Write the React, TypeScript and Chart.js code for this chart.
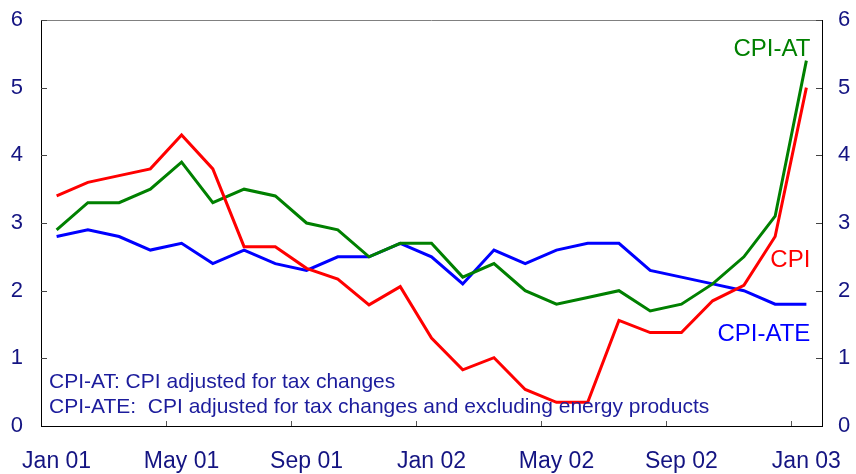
import React, { useEffect, useRef } from "react";
import { Chart, registerables } from "chart.js";

Chart.register(...registerables);

const months = [
  "Jan 01", "Feb 01", "Mar 01", "Apr 01", "May 01", "Jun 01", "Jul 01", "Aug 01", "Sep 01", "Oct 01", "Nov 01", "Dec 01",
  "Jan 02", "Feb 02", "Mar 02", "Apr 02", "May 02", "Jun 02", "Jul 02", "Aug 02", "Sep 02", "Oct 02", "Nov 02", "Dec 02",
  "Jan 03",
];
const cpi = [3.4, 3.6, 3.7, 3.8, 4.3, 3.8, 2.65, 2.65, 2.33, 2.17, 1.79, 2.06, 1.3, 0.83, 1.01, 0.54, 0.35, 0.35, 1.56, 1.38, 1.38, 1.85, 2.08, 2.8, 5.0];
const cpiAT = [2.9, 3.3, 3.3, 3.5, 3.9, 3.3, 3.5, 3.4, 3.0, 2.9, 2.5, 2.7, 2.7, 2.2, 2.4, 2.0, 1.8, 1.9, 2.0, 1.7, 1.8, 2.1, 2.5, 3.1, 5.4];
const cpiATE = [2.8, 2.9, 2.8, 2.6, 2.7, 2.4, 2.6, 2.4, 2.3, 2.5, 2.5, 2.7, 2.5, 2.1, 2.6, 2.4, 2.6, 2.7, 2.7, 2.3, 2.2, 2.1, 2.0, 1.8, 1.8];
const noteLines = [
  "CPI-AT: CPI adjusted for tax changes",
  "CPI-ATE:  CPI adjusted for tax changes and excluding energy products",
];

const FONT = "Liberation Sans, Arial, sans-serif";
const TICK_COLOR = "#141482";
const NOTE_COLOR = "#1c1c9c";

const decorPlugin = {
  id: "decor",
  afterDatasetsDraw(chart: any) {
    const { ctx, chartArea, scales } = chart;
    const x = scales.x;
    const y = scales.y;
    const half = (x.getPixelForValue(1) - x.getPixelForValue(0)) / 2;
    ctx.save();
    // top border
    ctx.strokeStyle = "#808080";
    ctx.lineWidth = 1;
    ctx.beginPath();
    ctx.moveTo(chartArea.left, chartArea.top + 0.5);
    ctx.lineTo(chartArea.right, chartArea.top + 0.5);
    ctx.stroke();
    // x inner ticks
    ctx.strokeStyle = "#555";
    for (let i = 4; i <= months.length; i += 4) {
      const px = Math.round(x.getPixelForValue(i) - half) + 0.5;
      ctx.beginPath();
      ctx.moveTo(px, chartArea.bottom);
      ctx.lineTo(px, chartArea.bottom - 5);
      ctx.stroke();
    }
    // y inner ticks
    ctx.strokeStyle = "#444";
    for (let v = 1; v <= 6; v++) {
      const py = Math.round(y.getPixelForValue(v)) + 0.5;
      ctx.beginPath();
      ctx.moveTo(chartArea.left, py);
      ctx.lineTo(chartArea.left + 6, py);
      ctx.moveTo(chartArea.right, py);
      ctx.lineTo(chartArea.right - 6, py);
      ctx.stroke();
    }
    // series labels
    const lastX = x.getPixelForValue(months.length - 1) + 4;
    ctx.font = `24px ${FONT}`;
    ctx.textAlign = "right";
    ctx.textBaseline = "middle";
    ctx.fillStyle = "#008000";
    ctx.fillText("CPI-AT", lastX, y.getPixelForValue(5.57));
    ctx.fillStyle = "#ff0000";
    ctx.fillText("CPI", lastX, y.getPixelForValue(2.45));
    ctx.fillStyle = "#0000ff";
    ctx.fillText("CPI-ATE", lastX, y.getPixelForValue(1.36));
    // notes
    ctx.font = `21px ${FONT}`;
    ctx.textAlign = "left";
    ctx.textBaseline = "alphabetic";
    ctx.fillStyle = NOTE_COLOR;
    noteLines.forEach((t, i) => {
      ctx.fillText(t, chartArea.left + 8, chartArea.bottom - 38 + i * 25);
    });
    ctx.restore();
  },
};

const noPad = (s: any) => {
  s.paddingTop = 0;
  s.paddingBottom = 0;
  s.paddingLeft = 0;
  s.paddingRight = 0;
};

export default function App() {
  const ref = useRef<HTMLCanvasElement>(null);
  useEffect(() => {
    if (!ref.current) return;
    const chart = new Chart(ref.current, {
      type: "line",
      data: {
        labels: months,
        datasets: [
          { label: "CPI", data: cpi, borderColor: "#ff0000", borderWidth: 3, pointRadius: 0, tension: 0 },
          { label: "CPI-AT", data: cpiAT, borderColor: "#008000", borderWidth: 3, pointRadius: 0, tension: 0 },
          { label: "CPI-ATE", data: cpiATE, borderColor: "#0000ff", borderWidth: 3, pointRadius: 0, tension: 0 },
        ],
      },
      options: {
        animation: false,
        responsive: false,
        maintainAspectRatio: false,
        layout: { padding: { top: 20, left: 0, right: 0, bottom: 0 } },
        plugins: { legend: { display: false }, tooltip: { enabled: false } },
        scales: {
          x: {
            type: "category",
            offset: true,
            grid: { display: false, drawTicks: false },
            border: { display: true, color: "#000", width: 1 },
            ticks: {
              autoSkip: false,
              maxRotation: 0,
              padding: 22,
              color: TICK_COLOR,
              font: { family: FONT, size: 23 },
              callback: (_v: any, i: number) => (i % 4 === 0 ? months[i] : ""),
            },
            afterFit: (s: any) => { s.height = 48; noPad(s); },
          },
          y: {
            position: "left",
            min: 0,
            max: 6,
            grid: { display: false, drawTicks: false },
            border: { display: true, color: "#000", width: 1 },
            ticks: { stepSize: 1, padding: 18, color: TICK_COLOR, font: { family: FONT, size: 22 } },
            afterFit: (s: any) => { s.width = 41; noPad(s); },
          },
          y2: {
            position: "right",
            min: 0,
            max: 6,
            grid: { display: false, drawTicks: false },
            border: { display: true, color: "#000", width: 1 },
            ticks: { stepSize: 1, padding: 16, color: TICK_COLOR, font: { family: FONT, size: 22 } },
            afterFit: (s: any) => { s.width = 34; noPad(s); },
          },
        },
      },
      plugins: [decorPlugin],
    });
    return () => chart.destroy();
  }, []);
  return (
    <div style={{ position: "absolute", left: 0, top: 0, width: 856, height: 474, background: "#fff" }}>
      <canvas ref={ref} width={856} height={474} />
    </div>
  );
}
